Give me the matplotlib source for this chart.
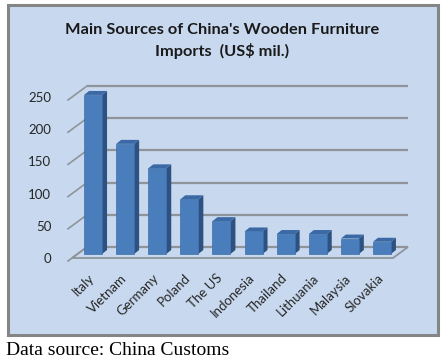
import numpy as np
import matplotlib
matplotlib.use("Agg")
import matplotlib.pyplot as plt
from matplotlib.patches import Rectangle, Polygon
from matplotlib.transforms import ScaledTranslation, IdentityTransform

countries = ["Italy", "Vietnam", "Germany", "Poland", "The US",
             "Indonesia", "Thailand", "Lithuania", "Malaysia", "Slovakia"]
imports = [247, 171, 133, 85, 51, 35, 31, 31, 24, 19]
yticks = [0, 50, 100, 150, 200, 250]
title = "Main Sources of China's Wooden Furniture\nImports  (US$ mil.)"
source = "Data source: China Customs"

W, H = 448, 361
fig = plt.figure(figsize=(W / 100, H / 100), dpi=100)

bg = "#c8d9ef"
grid_c = "#8f949a"
front_c = "#4a7dbb"
side_c = "#2d5282"
top_c = "#3a69a6"

# chart area box
fig.patches.append(Rectangle((8 / W, (H - 335) / H), 430 / W, 330 / H,
                             transform=fig.transFigure, facecolor=bg,
                             edgecolor="#858585", linewidth=2.2, zorder=-1))

ax = fig.add_axes([72 / W, (H - 258) / H, 321 / W, 161 / H])
ax.set_facecolor("none")
ax.set_xlim(-0.5, len(countries) - 0.5)
ax.set_ylim(0, 250)
for s in ax.spines.values():
    s.set_visible(False)

# depth offsets in pixels
back = np.array([15, 11])
bar_off = np.array([5, 4])
depth = np.array([5, 4])

def px(dx, dy):
    return ScaledTranslation(dx / 100, dy / 100, fig.dpi_scale_trans)

ident = IdentityTransform()

def disp(x, y):
    return ax.transData.transform((x, y))

# floor
x0, x1 = -0.5, len(countries) - 0.5
p00, p10 = disp(x0, 0), disp(x1, 0)
ax.add_patch(Polygon([p00, p10, p10 + back, p00 + back], closed=True,
                     transform=ident, facecolor=bg, edgecolor=grid_c,
                     linewidth=1.3, zorder=1, clip_on=False))

# back wall gridlines
ax.hlines(yticks, x0, x1, transform=ax.transData + px(*back),
          color=grid_c, linewidth=1.6, clip_on=False, zorder=1)

# left wall gridlines seen edge-on
for t in yticks:
    p = disp(x0, t)
    ax.plot([p[0] - 4, p[0] + back[0]], [p[1] - 3, p[1] + back[1]],
            transform=ident, color=grid_c, linewidth=1.2, clip_on=False)

# bars
w = 0.56
xs = np.arange(len(countries))
ax.bar(xs, imports, width=w, color=front_c, edgecolor="#3d6ea8",
       linewidth=0.5, transform=ax.transData + px(*bar_off), zorder=3,
       clip_on=False)
for x, v in zip(xs, imports):
    br = disp(x + w / 2, 0) + bar_off
    tl = disp(x - w / 2, v) + bar_off
    tr = disp(x + w / 2, v) + bar_off
    ax.add_patch(Polygon([br, tr, tr + depth, br + depth], closed=True,
                         transform=ident, facecolor=side_c,
                         edgecolor="none", zorder=2, clip_on=False))
    ax.add_patch(Polygon([tl, tr, tr + depth, tl + depth], closed=True,
                         transform=ident, facecolor=top_c,
                         edgecolor="none", zorder=2, clip_on=False))

ax.set_xlim(x0, x1)
ax.set_ylim(0, 250)
ax.set_yticks(yticks)
ax.set_yticklabels([str(t) for t in yticks], fontsize=9.5, color="#262626",
                   family="Lato")
ax.tick_params(axis="y", length=0, pad=15)
ax.set_xticks(xs)
ax.set_xticklabels(countries, rotation=45, ha="right", va="top",
                   rotation_mode="anchor", fontsize=9.5, color="#262626",
                   family="Lato")
ax.tick_params(axis="x", length=0, pad=10)

fig.text(222 / W, 1 - 41 / H, title, ha="center", va="center",
         fontsize=11.8, fontweight="bold", family="Lato", color="#1a1a1a",
         linespacing=1.5)
fig.text(6 / W, 1 - 355 / H, source, ha="left", va="baseline",
         fontsize=14, family="Liberation Serif", color="black")

fig.savefig("out.png", dpi=100)
